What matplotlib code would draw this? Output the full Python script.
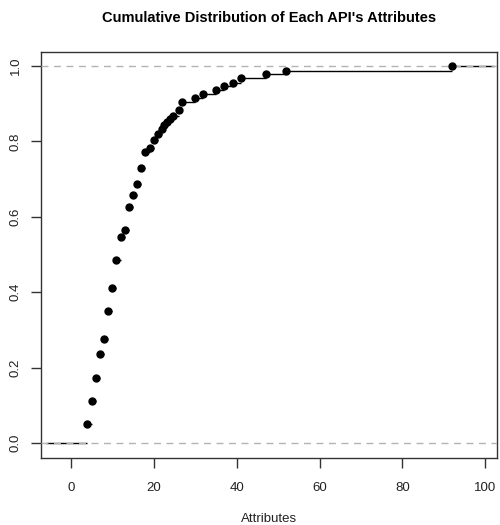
import matplotlib
matplotlib.use("Agg")
import matplotlib.pyplot as plt
import numpy as np

plt.rcParams['font.family'] = ['Liberation Sans', 'DejaVu Sans']

# ECDF knots (attribute counts) and cumulative fractions
attributes = [4, 5, 6, 7, 8, 9, 10, 11, 12, 13, 14, 15, 16, 17, 18, 19, 20, 21,
              22, 22.5, 23.3, 24, 24.7, 26, 26.8, 29.9, 31.9, 35.1, 37, 39, 41,
              47, 52, 92]
cum_frac = [0.050, 0.111, 0.173, 0.235, 0.276, 0.350, 0.412, 0.484, 0.546,
            0.565, 0.627, 0.658, 0.688, 0.729, 0.773, 0.782, 0.804, 0.819,
            0.833, 0.842, 0.852, 0.859, 0.868, 0.883, 0.905, 0.914, 0.925,
            0.936, 0.947, 0.956, 0.969, 0.978, 0.987, 1.0]

x_ticks = [0, 20, 40, 60, 80, 100]
y_ticks = [0.0, 0.2, 0.4, 0.6, 0.8, 1.0]
title = "Cumulative Distribution of Each API's Attributes"
xlabel = "Attributes"

fig = plt.figure(figsize=(5, 5.25), dpi=100)
ax = fig.add_axes([0.082, 0.1276, 0.912, 0.7734])

xlo, xhi = -7.2, 102.8
ax.set_xlim(xlo, xhi)
ax.set_ylim(-0.04, 1.037)

x = np.array(attributes)
y = np.array(cum_frac)

# horizontal segments of the step function
left_ext = -6.0
right_ext = 102.0
ax.hlines(0, left_ext, x[0], colors='black', lw=1.0, zorder=2)
ax.hlines(y[:-1], x[:-1], x[1:], colors='black', lw=1.0, zorder=2)
ax.hlines(y[-1], x[-1], right_ext, colors='black', lw=1.0, zorder=2)

# dashed reference lines at 0 and 1
for v in (0, 1):
    ax.axhline(v, color='#b3b3b3', ls=(0, (5, 4)), lw=1.0, zorder=3)

ax.plot(x, y, 'o', color='black', markersize=5, zorder=4)

ax.set_xticks(x_ticks)
ax.set_yticks(y_ticks)
ax.set_xticklabels([str(t) for t in x_ticks], fontsize=9.5, color='#222222')
ax.set_yticklabels([f"{t:.1f}" for t in y_ticks], fontsize=9.5, color='#222222',
                   rotation=90, va='center')
ax.tick_params(axis='both', direction='out', length=7, width=1, color='#333333')
ax.tick_params(axis='x', pad=10)
ax.tick_params(axis='y', pad=7)

for s in ax.spines.values():
    s.set_color('#333333')
    s.set_linewidth(1.0)

ax.set_xlabel(xlabel, fontsize=9.5, color='#222222', labelpad=14)
fig.text(0.538, 0.966, title, ha='center', va='center', fontsize=10.5, fontweight='bold')

fig.savefig("out.png", dpi=100)
